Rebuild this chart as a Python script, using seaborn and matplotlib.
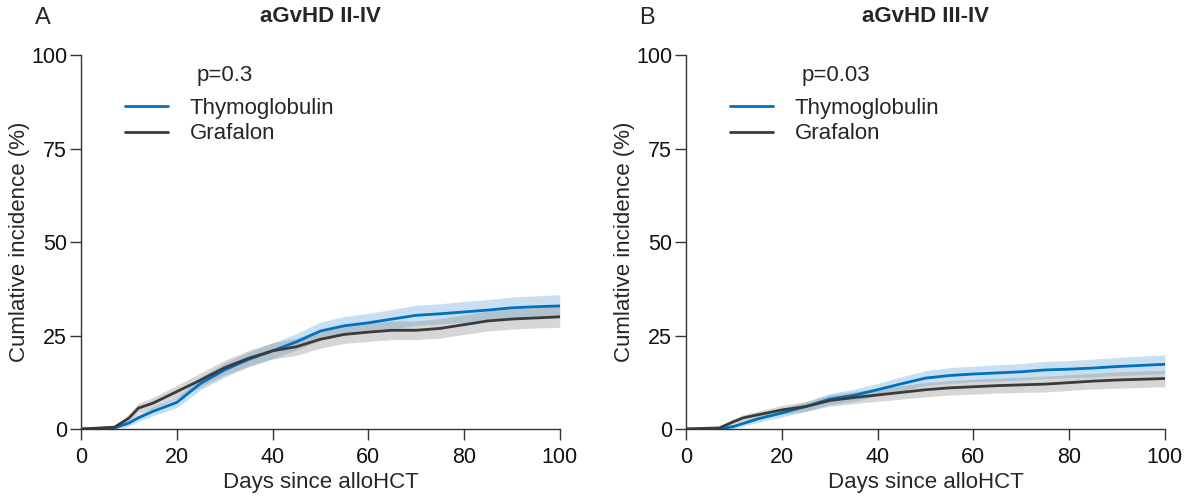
import numpy as np
import pandas as pd
import matplotlib
matplotlib.use("Agg")
import matplotlib.pyplot as plt
import seaborn as sns

# time points (days since alloHCT)
days = [0, 7, 10, 12, 15, 20, 25, 30, 35, 40, 45, 50, 55, 60, 65, 70, 75, 80, 85, 90, 95, 100]

# panel A: aGvHD II-IV (cumulative incidence, %)
thymo_a = [0, 0.3, 1.6, 3.0, 4.7, 7.1, 12.2, 15.8, 18.6, 20.9, 23.3, 26.2, 27.6, 28.4, 29.4,
           30.4, 30.8, 31.3, 31.8, 32.4, 32.7, 32.9]
thymo_a_ci = [0, 0.3, 0.8, 1.0, 1.2, 1.4, 1.7, 1.9, 2.0, 2.1, 2.2, 2.4, 2.5, 2.5, 2.6,
              2.7, 2.7, 2.8, 2.8, 2.9, 2.9, 3.0]
grafa_a = [0, 0.5, 2.9, 5.6, 6.9, 10.0, 13.1, 16.4, 18.9, 20.9, 22.0, 24.0, 25.3, 25.9, 26.4,
           26.4, 26.9, 27.9, 28.9, 29.4, 29.7, 30.0]
grafa_a_ci = [0, 0.4, 1.0, 1.3, 1.5, 1.7, 1.9, 2.0, 2.1, 2.2, 2.3, 2.4, 2.4, 2.5, 2.5,
              2.5, 2.6, 2.6, 2.7, 2.7, 2.7, 2.8]

# panel B: aGvHD III-IV
thymo_b = [0, 0, 0.7, 1.5, 2.7, 4.3, 6.0, 8.0, 9.0, 10.5, 12.1, 13.6, 14.3, 14.7, 15.0,
           15.3, 15.8, 16.0, 16.3, 16.7, 17.0, 17.3]
thymo_b_ci = [0, 0, 0.5, 0.7, 0.9, 1.1, 1.3, 1.5, 1.6, 1.7, 1.9, 2.0, 2.1, 2.1, 2.2,
              2.2, 2.3, 2.3, 2.4, 2.4, 2.5, 2.5]
grafa_b = [0, 0.3, 2.0, 3.0, 3.8, 5.1, 6.0, 7.6, 8.4, 9.1, 9.8, 10.5, 11.0, 11.3, 11.6,
           11.8, 12.0, 12.4, 12.8, 13.1, 13.3, 13.5]
grafa_b_ci = [0, 0.3, 0.7, 0.9, 1.0, 1.2, 1.3, 1.5, 1.6, 1.7, 1.8, 1.9, 1.9, 2.0, 2.0,
              2.0, 2.1, 2.1, 2.1, 2.2, 2.2, 2.2]

groups = ["Thymoglobulin", "Grafalon"]
colors = {"Thymoglobulin": "#0070C0", "Grafalon": "#3B3B3B"}
band_colors = {"Thymoglobulin": "#0070C0", "Grafalon": "#8C8C8C"}

panels = [
    ("A", "aGvHD II-IV", "p=0.3", [thymo_a, grafa_a], [thymo_a_ci, grafa_a_ci]),
    ("B", "aGvHD III-IV", "p=0.03", [thymo_b, grafa_b], [thymo_b_ci, grafa_b_ci]),
]

sns.set_style("ticks")
plt.rcParams["font.family"] = ["Liberation Sans", "DejaVu Sans"]

fig = plt.figure(figsize=(11.91, 5.01), dpi=100)
lefts = [0.068, 0.576]
letter_x = [0.029, 0.537]

for left, lx, (letter, title, pval, vals, cis) in zip(lefts, letter_x, panels):
    ax = fig.add_axes([left, 0.1437, 0.402, 0.7465])
    rows = []
    for g, v in zip(groups, vals):
        for d, y in zip(days, v):
            rows.append({"day": d, "ci": y, "group": g})
    df = pd.DataFrame(rows)

    for g, v, c in zip(groups, vals, cis):
        lo = np.array(v) - np.array(c)
        hi = np.array(v) + np.array(c)
        ax.fill_between(days, np.clip(lo, 0, None), hi, color=band_colors[g],
                        alpha=0.22 if g == "Thymoglobulin" else 0.35, linewidth=0)
    sns.lineplot(data=df, x="day", y="ci", hue="group", palette=colors,
                 hue_order=groups, linewidth=2, ax=ax, legend=False)

    ax.set_xlim(0, 100)
    ax.set_ylim(0, 100)
    ax.set_xticks([0, 20, 40, 60, 80, 100])
    ax.set_yticks([0, 25, 50, 75, 100])
    ax.tick_params(labelsize=15.5, length=8, width=1, color="#333333", labelcolor="#111111")
    ax.tick_params(axis="x", pad=5)
    ax.tick_params(axis="y", pad=2)
    sns.despine(ax=ax)
    for s in ["left", "bottom"]:
        ax.spines[s].set_linewidth(1)
        ax.spines[s].set_color("#333333")
    ax.set_xlabel("Days since alloHCT", fontsize=16, labelpad=3)
    ax.set_ylabel("Cumlative incidence (%)", fontsize=16, labelpad=1)

    ax.text(0.5, 1.103, title, transform=ax.transAxes, ha="center", va="center",
            fontsize=16, fontweight="bold")
    fig.text(lx, 0.964, letter, ha="left", va="center", fontsize=17)
    ax.text(0.242, 0.944, pval, transform=ax.transAxes, ha="left", va="center", fontsize=16)

    handles = [plt.Line2D([], [], color=colors[g], linewidth=2) for g in groups]
    ax.legend(handles, groups, loc="upper left", bbox_to_anchor=(0.092, 0.885),
              frameon=False, fontsize=16, handlelength=1.95, handletextpad=0.95,
              labelspacing=0.2, borderpad=0, borderaxespad=0)

fig.savefig("out.png", dpi=100)
